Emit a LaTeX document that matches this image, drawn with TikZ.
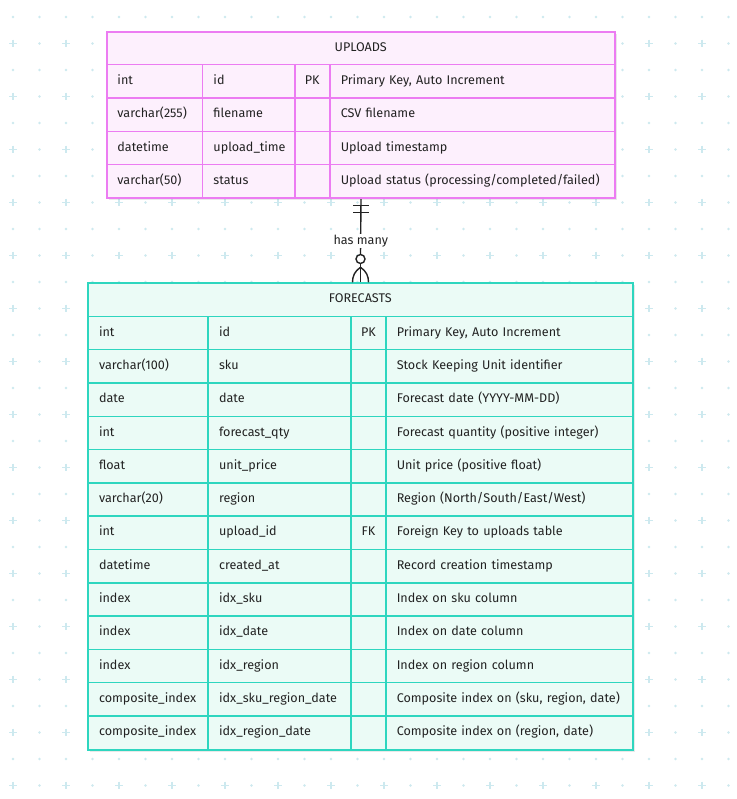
\documentclass[tikz,border=0pt]{standalone}
\usepackage{fontspec}
\setmainfont{Fira Sans}
\usetikzlibrary{arrows.meta,positioning,calc,shadows}
\definecolor{ink}{HTML}{222222}
\definecolor{relink}{HTML}{222222}
\definecolor{dotc}{HTML}{CDE9EF}
\definecolor{upline}{HTML}{EC7CF2}
\definecolor{upfill}{HTML}{FDF0FD}
\definecolor{fcline}{HTML}{2ED6BF}
\definecolor{fcfill}{HTML}{EBFBF6}
\tikzset{
  tablebox/.style={anchor=north west,inner sep=0pt,line width=2pt,drop shadow={fill=black!60,opacity=0.14,shadow xshift=2pt,shadow yshift=-2pt}},
  cell/.style={anchor=north west,inner xsep=11pt,inner ysep=0pt,minimum height=33.3pt,text height=9pt,text depth=2.7pt,align=left,font=\fontsize{12.6}{15}\selectfont,text=ink,line width=1.5pt},
  keycell/.style={cell,inner xsep=0pt,align=center},
  headtext/.style={font=\fontsize{12.6}{15}\selectfont,text=ink},
  rel/.style={draw=relink,line width=1.4pt},
  gridmark/.style={dotc},
}

\begin{document}
\begin{tikzpicture}[x=1pt,y=-1pt]
\useasboundingbox (0,0) rectangle (736,799);
\fill[white] (0,0) rectangle (736,799);

% background grid --------------------------------------------------------------
\foreach \j in {0,2,...,28}
  \foreach \i in {0,...,27}
    \fill[gridmark] ({13+26.5*\i},{17+26.5*\j}) circle[radius=1.4];
\foreach \j in {1,3,...,29}
  \foreach \i in {1,3,...,27}
    \fill[gridmark] ({13+26.5*\i},{17+26.5*\j}) circle[radius=1.4];
\foreach \j in {1,3,...,29}
  \foreach \i in {0,2,...,26}
    \draw[gridmark,line width=1.4pt] ({13+26.5*\i-3.8},{17+26.5*\j}) -- ++(7.6,0) ({13+26.5*\i},{17+26.5*\j-3.8}) -- ++(0,7.6);

% UPLOADS ----------------------------------------------------------------------
\node[tablebox,draw=upline,fill=upfill,minimum width=508.6pt,minimum height=166.5pt] (upl) at (105.7,30.7) {};
\node[cell,draw=upline,text width=486.6pt,align=center] (uplhead) at (upl.north west) {UPLOADS};
\foreach \ty/\fd/\ky/\cm [count=\r] in {
  int/id/PK/{Primary Key, Auto Increment},
  varchar(255)/filename/{}/CSV filename,
  datetime/upload\_time/{}/Upload timestamp,
  varchar(50)/status/{}/{Upload status (processing/completed/failed)}}{
  \node[cell,draw=upline,text width=74pt] (upl-\r-a) at (105.7,{30.7+33.3*\r}) {\mbox{\ty}};
  \node[cell,draw=upline,text width=70.3pt] (upl-\r-b) at (201.7,{30.7+33.3*\r}) {\mbox{\fd}};
  \node[keycell,draw=upline,text width=35pt] (upl-\r-c) at (294,{30.7+33.3*\r}) {\ky};
  \node[cell,draw=upline,text width=263.3pt] (upl-\r-d) at (329,{30.7+33.3*\r}) {\mbox{\cm}};
}

% FORECASTS --------------------------------------------------------------------
\node[tablebox,draw=fcline,fill=fcfill,minimum width=544.4pt,minimum height=466.2pt] (fc) at (87.3,282.3) {};
\node[cell,draw=fcline,text width=522.4pt,align=center] (fchead) at (fc.north west) {FORECASTS};
\foreach \ty/\fd/\ky/\cm [count=\r] in {
  int/id/PK/{Primary Key, Auto Increment},
  varchar(100)/sku/{}/Stock Keeping Unit identifier,
  date/date/{}/Forecast date (YYYY-MM-DD),
  int/forecast\_qty/{}/Forecast quantity (positive integer),
  float/unit\_price/{}/Unit price (positive float),
  varchar(20)/region/{}/{Region (North/South/East/West)},
  int/upload\_id/FK/Foreign Key to uploads table,
  datetime/created\_at/{}/Record creation timestamp,
  index/idx\_sku/{}/Index on sku column,
  index/idx\_date/{}/Index on date column,
  index/idx\_region/{}/Index on region column,
  composite\_index/idx\_sku\_region\_date/{}/{Composite index on (sku, region, date)},
  composite\_index/idx\_region\_date/{}/{Composite index on (region, date)}}{
  \node[cell,draw=fcline,text width=98pt] (fc-\r-a) at (87.3,{282.3+33.3*\r}) {\mbox{\ty}};
  \node[cell,draw=fcline,text width=121pt] (fc-\r-b) at (207.3,{282.3+33.3*\r}) {\mbox{\fd}};
  \node[keycell,draw=fcline,text width=34.7pt] (fc-\r-c) at (350.3,{282.3+33.3*\r}) {\ky};
  \node[cell,draw=fcline,text width=224.7pt] (fc-\r-d) at (385,{282.3+33.3*\r}) {\mbox{\cm}};
}

% relationship -----------------------------------------------------------------
\node[circle,draw=relink,fill=white,line width=1.4pt,minimum size=9pt,inner sep=0pt] (zero) at ($(fc.north)+(0,-23.3)$) {};
\draw[rel] (upl.south) -- (zero.north);
\node[headtext,fill=white,inner xsep=4pt,inner ysep=1pt] (relname) at ($(upl.south)!0.5!(fc.north)$) {has many};
\draw[rel] ($(upl.south)+(-8,6.6)$) -- ($(upl.south)+(8,6.6)$);
\draw[rel] ($(upl.south)+(-8,13.3)$) -- ($(upl.south)+(8,13.3)$);
\draw[rel] (zero.south) -- (fc.north);
\draw[rel] ($(fc.north)+(0,-15)$) .. controls ($(fc.north)+(-6,-11)$) and ($(fc.north)+(-8,-6)$) .. ($(fc.north)+(-8,0)$);
\draw[rel] ($(fc.north)+(0,-15)$) .. controls ($(fc.north)+(6,-11)$) and ($(fc.north)+(8,-6)$) .. ($(fc.north)+(8,0)$);

\end{tikzpicture}
\end{document}
